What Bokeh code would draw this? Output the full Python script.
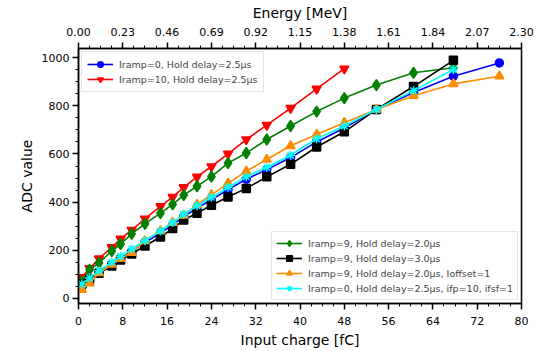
from bokeh.plotting import figure
from bokeh.models import (Range1d, LinearAxis, FixedTicker, PrintfTickFormatter,
                          Legend, LegendItem)
from bokeh.embed import file_html
from bokeh.resources import INLINE

# Injected charge points [fC]
charge = [0.6, 2.0, 3.7, 6.0, 7.6, 9.6, 12.0, 14.8, 17.0, 19.0, 21.4, 24.0,
          27.0, 30.3, 34.0, 38.3, 43.0, 48.0, 53.8, 60.5, 67.7, 76.0]

# ADC response for each configuration
adc_iramp0_hd25 = [50, 75, 105, 140, 165, 195, 232, 272, 305, 340, 375, 410,
                   452, 495, 535, 585, 650, 708, 785, 855, 923, 978]
adc_iramp10_hd25 = [88, 125, 165, 212, 247, 284, 331, 382, 421, 461, 505, 548,
                    600, 660, 720, 790, 870, 954]
adc_iramp9_hd20 = [70, 120, 148, 197, 226, 268, 310, 354, 391, 429, 466, 506,
                   562, 604, 660, 716, 776, 832, 886, 937, 958]
adc_iramp9_hd30 = [60, 80, 105, 135, 160, 185, 218, 255, 290, 326, 354, 387,
                   421, 457, 505, 557, 629, 692, 785, 880, 989]
adc_iramp9_hd20_ioff = [37, 64, 106, 141, 165, 190, 239, 281, 315, 345, 390, 430,
                        478, 528, 577, 634, 681, 730, 785, 842, 891, 923]
adc_iramp0_hd25_ifp = [60, 85, 115, 150, 175, 205, 240, 280, 315, 350, 385, 420,
                       462, 505, 545, 595, 663, 716, 785, 863, 951]

x_ticks = [0, 8, 16, 24, 32, 40, 48, 56, 64, 72, 80]
y_ticks = [0, 200, 400, 600, 800, 1000]
energy_ticks = [0.00, 0.23, 0.46, 0.69, 0.92, 1.15, 1.38, 1.61, 1.84, 2.07, 2.30]

FONT = "DejaVu Sans"

p = figure(width=543, height=351, output_backend="svg", toolbar_location=None,
           x_range=Range1d(0, 80), y_range=Range1d(-21, 1038),
           min_border_left=78, min_border_right=22, min_border_top=48,
           min_border_bottom=48)
p.background_fill_color = "white"
p.border_fill_color = "white"
p.grid.visible = False
p.outline_line_color = "black"
p.outline_line_width = 1.5

p.extra_x_ranges = {"energy": Range1d(0, 2.30)}
top = LinearAxis(x_range_name="energy", axis_label="Energy [MeV]")
p.add_layout(top, "above")

p.xaxis[0].ticker = FixedTicker(ticks=energy_ticks,
                                minor_ticks=[i * 0.0575 for i in range(41)])
p.xaxis[0].formatter = PrintfTickFormatter(format="%.2f")
p.below[0].ticker = FixedTicker(ticks=x_ticks, minor_ticks=list(range(0, 81, 2)))
p.below[0].axis_label = "Input charge [fC]"
p.yaxis[0].ticker = FixedTicker(ticks=y_ticks, minor_ticks=list(range(0, 1001, 50)))
p.yaxis[0].axis_label = "ADC value"

for ax in p.xaxis + p.yaxis:
    ax.axis_line_width = 1.5
    ax.major_tick_line_width = 1.5
    ax.minor_tick_line_width = 1.0
    ax.major_tick_in = 0
    ax.major_tick_out = 6
    ax.minor_tick_in = 0
    ax.minor_tick_out = 3
    ax.major_label_text_font = FONT
    ax.major_label_text_font_size = "11px"
    ax.major_label_text_color = "black"
    ax.axis_label_text_font = FONT
    ax.axis_label_text_font_size = "14px"
    ax.axis_label_text_font_style = "normal"
    ax.axis_label_text_color = "black"
    ax.axis_label_standoff = 4
    ax.major_label_standoff = 3

for ax in p.xaxis:
    ax.major_label_standoff = 7


def series(xs, ys, color, marker, size):
    n = len(ys)
    ln = p.line(xs[:n], ys, line_color=color, line_width=1.6)
    mk = p.scatter(xs[:n], ys, marker=marker, size=size, fill_color=color,
                   line_color=color, line_width=1.5)
    return [ln, mk]


r_blue = series(charge, adc_iramp0_hd25, "blue", "circle", 8)
r_red = series(charge, adc_iramp10_hd25, "red", "inverted_triangle", 9)
r_green = series(charge, adc_iramp9_hd20, "green", "diamond", 11)
r_black = series(charge, adc_iramp9_hd30, "black", "square", 8)
r_orange = series(charge, adc_iramp9_hd20_ioff, "darkorange", "triangle", 9)
r_cyan = series(charge, adc_iramp0_hd25_ifp, "cyan", "asterisk", 9)


def make_legend(items, location, padding):
    lg = Legend(items=items, location=location)
    lg.label_text_font = FONT
    lg.label_text_font_size = "9.5px"
    lg.label_height = 14
    lg.glyph_height = 14
    lg.glyph_width = 26
    lg.label_standoff = 6
    lg.spacing = 1
    lg.padding = padding
    lg.margin = 3
    lg.border_line_color = "#cccccc"
    lg.border_line_width = 1
    lg.background_fill_alpha = 0.85
    return lg


leg1 = make_legend([
    LegendItem(label="Iramp=0, Hold delay=2.5μs", renderers=r_blue),
    LegendItem(label="Iramp=10, Hold delay=2.5μs", renderers=r_red),
], "top_left", 5)
leg2 = make_legend([
    LegendItem(label="Iramp=9, Hold delay=2.0μs", renderers=r_green),
    LegendItem(label="Iramp=9, Hold delay=3.0μs", renderers=r_black),
    LegendItem(label="Iramp=9, Hold delay=2.0μs, Ioffset=1", renderers=r_orange),
    LegendItem(label="Iramp=0, Hold delay=2.5μs, ifp=10, ifsf=1", renderers=r_cyan),
], "bottom_right", 4)
p.add_layout(leg1, "center")
p.add_layout(leg2, "center")

open("out.html", "w").write(file_html(p, INLINE))
